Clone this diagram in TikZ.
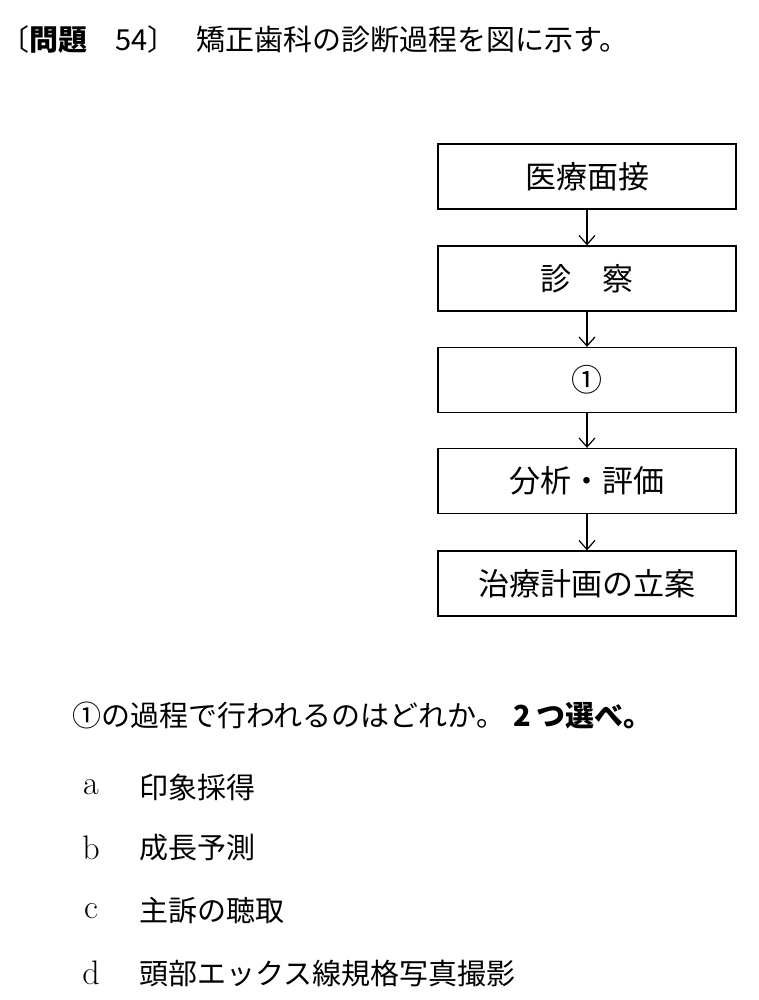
\documentclass[tikz,border=0pt]{standalone}
\usepackage{fontspec}
\usetikzlibrary{arrows.meta}
\newfontfamily\jpfont{Noto Sans CJK JP}

\begin{document}
\begin{tikzpicture}[x=1pt,y=-1pt,
  box/.style={draw,line width=1.3pt,minimum width=298pt,minimum height=65pt,inner sep=0pt,font=\jpfont\fontsize{31}{31}\selectfont},
  flow/.style={-{Straight Barb[length=9pt,width=16pt]},line width=1.2pt},
  txt/.style={anchor=west,inner sep=0pt,font=\jpfont\fontsize{29}{29}\selectfont},
  letter/.style={inner sep=0pt,font=\fontsize{34}{34}\selectfont}]

\useasboundingbox (0,0) rectangle (759,1000);

% title
\node[txt] (head) at (0,40) {〔{\bfseries 問題}\hspace{28pt}54〕};
\node[txt] (title) at (196,40) {矯正歯科の診断過程を図に示す。};

% boxes
\node[box] (interview) at (587,176.5) {医療面接};
\node[box] (exam) at (587,278.5) {診　察};
\node[box] (records) at (587,380) {①};
\node[box] (analysis) at (587,481) {分析・評価};
\node[box] (plan) at (587,583.5) {治療計画の立案};

\draw[flow] (interview) -- (exam);
\draw[flow] (exam) -- (records);
\draw[flow] (records) -- (analysis);
\draw[flow] (analysis) -- (plan);

% question
\node[txt] (question) at (72,715) {①の過程で行われるのはどれか。\hspace{8pt}{\bfseries 2\hspace{6pt}つ選べ。}};

\node[letter] (la) at (91,787) {a};
\node[txt] (ta) at (139,787) {印象採得};
\node[letter] (lb) at (91,848) {b};
\node[txt] (tb) at (139,848) {成長予測};
\node[letter] (lc) at (91,911) {c};
\node[txt] (tc) at (139,911) {主訴の聴取};
\node[letter] (ld) at (91,973) {d};
\node[txt] (td) at (139,973) {頭部エックス線規格写真撮影};

\end{tikzpicture}
\end{document}
